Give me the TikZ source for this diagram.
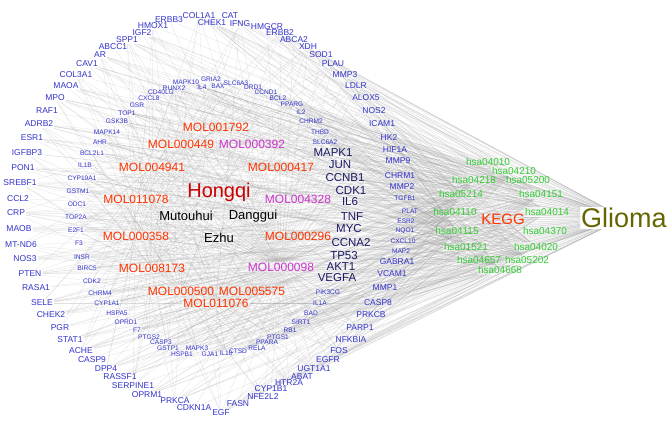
\documentclass[tikz,border=0pt]{standalone}
\usepackage{fontspec}
\setmainfont{Liberation Sans}
\usepackage{xcolor}
\usepackage{tikz}
\pgfdeclarelayer{bg}
\pgfsetlayers{bg,main}

\definecolor{geneblue}{RGB}{51,51,204}
\definecolor{hubnavy}{RGB}{26,26,102}
\definecolor{molred}{RGB}{255,51,0}
\definecolor{molpink}{RGB}{204,51,204}
\definecolor{herbred}{RGB}{204,0,0}
\definecolor{hsagreen}{RGB}{51,204,51}
\definecolor{gliomaolive}{RGB}{102,102,0}

\begin{document}
\begin{tikzpicture}
      [ x=1pt, y=-1pt,
        gene/.style={text=geneblue, inner sep=1pt, font=\fontsize{8.5}{9}\selectfont},
        smallgene/.style={text=geneblue, inner sep=.5pt, font=\fontsize{6.6}{7}\selectfont},
        hubgene/.style={text=hubnavy, inner sep=1pt, font=\fontsize{11.5}{12}\selectfont},
        mol/.style={inner sep=1pt, font=\fontsize{12}{13}\selectfont},
        herb/.style={inner sep=1pt, font=\fontsize{13}{14}\selectfont},
        pathway/.style={text=hsagreen, inner sep=1pt, font=\fontsize{10}{11}\selectfont},
        link/.style={draw=black!40, line width=.25pt, opacity=.3}
      ]
      \useasboundingbox (0,0) rectangle (670,424);

      % outer ring of targets
      \foreach \g/\x/\y [count=\i] in {ERBB3/169/20, COL1A1/199/16, CHEK1/212/23,
          HMOX1/153/26, IGF2/142/33, SPP1/127/40, ABCC1/113/47, AR/100/55,
          CAV1/87/64, COL3A1/76/75, MAOA/66/86, MPO/55/98, RAF1/47/111,
          ADRB2/39/124, ESR1/32/138, IGFBP3/27/153, PON1/23/168, SREBF1/20/183,
          CCL2/18/199, CRP/16/213, MAOB/19/229, MT-ND6/21/245, NOS3/25/259,
          PTEN/30/274, RASA1/36/288, SELE/42/303, CHEK2/51/315, PGR/60/328,
          STAT1/70/340, ACHE/81/351, CASP9/92/360, DPP4/106/369, RASSF1/120/377,
          SERPINE1/133/386, OPRM1/147/395, PRKCA/175/401, CDKN1A/194/408,
          EGF/221/413, FASN/238/404, NFE2L2/263/397, CYP1B1/271/389,
          HTR2A/289/383, ABAT/302/377, UGT1A1/314/369, EGFR/328/360, FOS/339/351,
          NFKBIA/351/340, PARP1/360/328, PRKCB/371/315, CASP8/378/303,
          MMP1/385/288, VCAM1/392/274, GABRA1/397/262, HK2/389/138,
          HIF1A/395/150, MMP9/398/161, CHRM1/400/176, MMP2/402/187,
          ICAM1/382/124, NOS2/374/111, ALOX5/366/98, LDLR/356/86, MMP3/345/75,
          PLAU/333/64, SOD1/321/55, XDH/308/47, ABCA2/294/40, ERBB2/280/33,
          HMGCR/267/27, IFNG/240/24, CAT/230/16}
        \node[gene] (t\i) at (\x,\y) {\g};

      % inner ring of targets
      \foreach \g/\x/\y [count=\i from 72] in {MAPK10/186/82, GRIA2/211/79,
          RUNX2/174/88, IL4/202/87, BAX/218/86, CD40LG/161/92, CXCL8/149/98,
          GSR/137/105, TOP1/127/113, GSK3B/117/121, MAPK14/107/132, AHR/100/142,
          BCL2L1/92/153, IL1B/85/165, CYP19A1/82/178, GSTM1/78/191, ODC1/77/204,
          TOP2A/76/217, E2F1/76/230, F3/79/243, INSR/82/257, BIRC5/87/268,
          CDK2/92/281, CHRM4/100/293, CYP1A1/107/303, HSPA5/117/313,
          OPRD1/126/322, F7/137/330, PTGS2/149/337, CASP3/161/342, GSTP1/168/348,
          HSPB1/182/354, MAPK3/197/348, GJA1/210/354, IL10/226/353, CTSD/238/351,
          RELA/257/348, PPARA/267/342, PTGS1/278/337, RB1/290/330, SIRT1/301/322,
          BAD/311/313, IL1A/320/303, PIK3CG/328/292, MAP2/401/251,
          CXCL10/403/241, NQO1/405/231, ESR2/406/221, PLAT/410/211,
          TGFB1/405/198, SLC6A2/325/142, THBD/320/132, CHRM2/311/121,
          IL2/301/112, PPARG/292/104, BCL2/278/98, CCND1/266/92, DRD1/253/87,
          SLC6A3/236/83}
        \node[smallgene] (t\i) at (\x,\y) {\g};

      % hub targets
      \foreach \g/\x/\y [count=\i from 131] in {MAPK1/333/153, JUN/340/165,
          CCNB1/345/178, CDK1/351/191, IL6/350/202, TNF/352/217, MYC/349/229,
          CCNA2/351/243, TP53/344/256, AKT1/341/267, VEGFA/337/278}
        \node[hubgene] (t\i) at (\x,\y) {\g};

      % compounds
      \foreach \g/\x/\y/\c [count=\i] in {MOL001792/216/127/molred,
          MOL000449/181/144/molred, MOL000392/252/144/molpink,
          MOL004941/152/167/molred, MOL000417/281/167/molred,
          MOL011078/136/199/molred, MOL004328/298/199/molpink,
          MOL000358/136/236/molred, MOL000296/298/236/molred,
          MOL008173/152/268/molred, MOL000098/281/267/molpink,
          MOL000500/181/291/molred, MOL005575/252/291/molred,
          MOL011076/216/303/molred}
        \node[mol, text=\c] (m\i) at (\x,\y) {\g};

      % herbs
      \node[herb, text=herbred, font=\fontsize{20}{22}\selectfont] (h1) at (219,192) {Hongqi};
      \node[herb] (h2) at (186,216) {Mutouhui};
      \node[herb] (h3) at (253,216) {Danggui};
      \node[herb] (h4) at (219,238) {Ezhu};

      % pathways
      \foreach \g/\x/\y [count=\i] in {hsa04010/488/162, hsa04210/514/171,
          hsa04218/474/180, hsa05200/528/180, hsa05214/461/194,
          hsa04151/541/194, hsa04110/455/212, hsa04014/547/212,
          hsa04115/457/231, hsa04370/545/231, hsa01521/466/247,
          hsa04020/536/247, hsa04657/479/260, hsa05202/527/260,
          hsa04668/500/270}
        \node[pathway] (k\i) at (\x,\y) {\g};

      \node[text=molred, inner sep=1pt, font=\fontsize{15}{16}\selectfont] (kegg) at (503,219) {KEGG};
      \node[text=gliomaolive, inner sep=1pt, font=\fontsize{27}{28}\selectfont] (glioma) at (624,218) {Glioma};

      \begin{pgfonlayer}{bg}
        \fill[white] (0,0) rectangle (670,424);
        % herb - compound
        \foreach \h/\ms in {1/{1,2,3,4,5,6,7,10,11,12}, 2/{2,3,6,7,8,10,11,12},
                            3/{1,3,5,7,9,11,13}, 4/{3,7,11,13,14}}
          \foreach \m in \ms
            \draw[link] (h\h) -- (m\m);
        % compound - target
        \foreach \m in {1,...,14}
          \foreach \t in {1,...,141} {
            \pgfmathtruncatemacro\k{mod(\m*7+\t*3+\m*\t,4)}
            \ifnum\m=11 \def\k{0}\fi
            \ifnum\k=0 \draw[link] (m\m) -- (t\t);\fi
          }
        % target - pathway, target - disease
        \foreach \t in {1,...,141} {
          \draw[link] (t\t) -- (glioma);
          \foreach \p in {1,...,15} {
            \pgfmathtruncatemacro\k{mod(\t*5+\p*11+\t*\p,3)}
            \ifnum\k=0 \draw[link] (t\t) -- (k\p);\fi
          }
        }
        % pathway - KEGG - disease
        \foreach \p in {1,...,15} {
          \draw[link] (k\p) -- (kegg);
          \draw[link] (k\p) -- (glioma);
        }
      \end{pgfonlayer}
    \end{tikzpicture}
\end{document}
